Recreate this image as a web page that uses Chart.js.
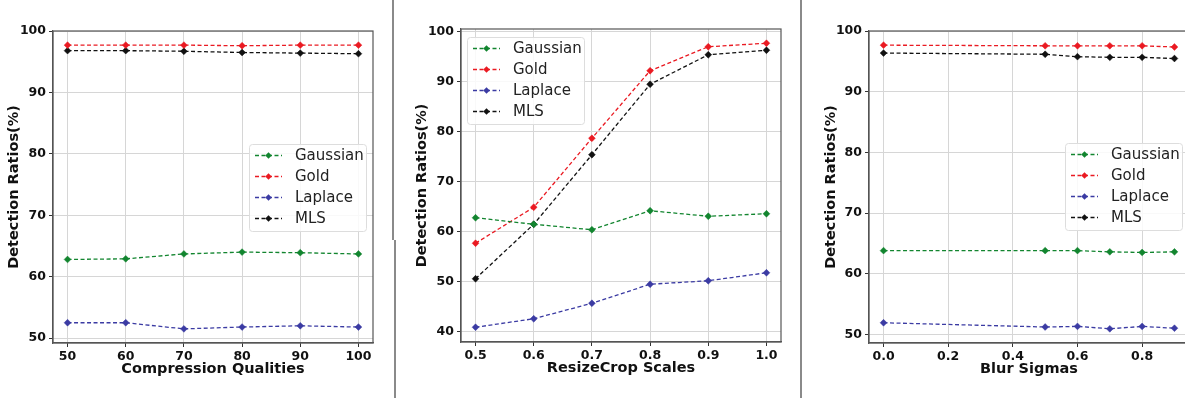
<!DOCTYPE html>
<html>
<head>
<meta charset="utf-8">
<script src="https://cdn.jsdelivr.net/npm/chart.js@4.4.1/dist/chart.umd.min.js"></script>
<style>
  html, body { margin: 0; padding: 0; background: #fff; overflow: hidden; }
  body { width: 1185px; height: 398px; position: relative; }
  canvas { position: absolute; top: 0; }
  .sep { position: absolute; width: 2px; background: #8a8a8a; }
</style>
</head>
<body>
<canvas id="c1" width="392" height="398" style="left:0px"></canvas>
<canvas id="c2" width="400" height="398" style="left:397px"></canvas>
<canvas id="c3" width="400" height="398" style="left:803px"></canvas>
<div class="sep" style="left:392px;top:0;height:240px"></div>
<div class="sep" style="left:394px;top:240px;height:158px"></div>
<div class="sep" style="left:800px;top:0;height:398px"></div>
<script>
/* input value */
var names = ["Gaussian", "Gold", "Laplace", "MLS"];
var colors = ["#12852f", "#ea1a22", "#3b3ba3", "#111111"];

/* compression */
var jpegQ = [50, 60, 70, 80, 90, 100];
var jpegGaussian = [62.8, 62.9, 63.7, 64.0, 63.9, 63.7];
var jpegGold = [97.7, 97.7, 97.7, 97.6, 97.7, 97.7];
var jpegLaplace = [52.5, 52.5, 51.5, 51.8, 52.0, 51.8];
var jpegMLS = [96.8, 96.8, 96.7, 96.5, 96.4, 96.3];

/* resize crop */
var cropS = [0.5, 0.6, 0.7, 0.8, 0.9, 1.0];
var cropGaussian = [62.8, 61.5, 60.4, 64.2, 63.1, 63.6];
var cropGold = [57.7, 64.9, 78.7, 92.2, 97.0, 97.7];
var cropLaplace = [40.9, 42.6, 45.7, 49.5, 50.2, 51.8];
var cropMLS = [50.6, 61.5, 75.4, 89.5, 95.4, 96.3];

/* blur */
var blurS = [0.0, 0.5, 0.6, 0.7, 0.8, 0.9];
var blurGaussian = [63.8, 63.8, 63.8, 63.6, 63.5, 63.6];
var blurGold = [97.7, 97.6, 97.6, 97.6, 97.6, 97.4];
var blurLaplace = [51.9, 51.2, 51.3, 50.9, 51.3, 51.0];
var blurMLS = [96.4, 96.2, 95.8, 95.7, 95.7, 95.5];

function pts(xs, ys) {
  return xs.map(function (x, i) { return { x: x, y: ys[i] }; });
}

function sets(xs, series) {
  return series.map(function (ys, i) {
    return {
      label: names[i],
      data: pts(xs, ys),
      borderColor: colors[i],
      backgroundColor: colors[i],
      borderWidth: 1.3,
      borderDash: [4, 2.5],
      pointStyle: "rectRot",
      pointRadius: 3.4,
      pointBorderWidth: 0.5,
      tension: 0,
    };
  });
}

/* frame + legend inside plot */
var framePlugin = {
  id: "frame",
  afterDraw: function (chart, args, opts) {
    var a = chart.chartArea;
    var g = chart.ctx;
    g.save();
    g.strokeStyle = "#555";
    g.lineWidth = 1.2;
    g.strokeRect(a.left, a.top, a.right - a.left, a.bottom - a.top);
    // legend
    var w = 117, h = 87;
    var lx = opts.side == "left" ? a.left + 6 : a.right - 7 - w;
    var ly = a.top + opts.top;
    g.fillStyle = "rgba(255,255,255,0.85)";
    g.strokeStyle = "#ddd";
    g.lineWidth = 1;
    g.beginPath();
    g.roundRect(lx + 0.5, ly + 0.5, w, h, 3);
    g.fill();
    g.stroke();
    g.font = "15px 'DejaVu Sans'";
    g.textBaseline = "middle";
    chart.data.datasets.forEach(function (ds, i) {
      var yy = ly + 11.5 + i * 21;
      g.strokeStyle = ds.borderColor;
      g.lineWidth = 1.3;
      g.setLineDash([4, 2.5]);
      g.beginPath();
      g.moveTo(lx + 6, yy);
      g.lineTo(lx + 33, yy);
      g.stroke();
      g.setLineDash([]);
      g.fillStyle = ds.borderColor;
      g.beginPath();
      g.moveTo(lx + 19.5, yy - 3.2);
      g.lineTo(lx + 22.7, yy);
      g.lineTo(lx + 19.5, yy + 3.2);
      g.lineTo(lx + 16.3, yy);
      g.closePath();
      g.fill();
      g.fillStyle = "#222";
      g.fillText(ds.label, lx + 46, yy + 1);
    });
    g.restore();
  },
};

function makeChart(id, xs, series, xr, yr, xstep, yLeft, pad, xTitle, legend, fmt) {
  return new Chart(document.getElementById(id), {
    type: "line",
    data: { datasets: sets(xs, series) },
    plugins: [framePlugin],
    options: {
      responsive: false,
      animation: false,
      layout: { padding: pad },
      plugins: { legend: { display: false }, tooltip: { enabled: false }, frame: legend },
      scales: {
        x: {
          type: "linear",
          min: xr[0],
          max: xr[1],
          afterFit: function (s) { s.height = 35; },
          ticks: {
            stepSize: xstep,
            includeBounds: false,
            maxRotation: 0,
            color: "#111",
            padding: 2,
            font: { family: "'DejaVu Sans'", size: 12.5, weight: "bold" },
            callback: fmt,
          },
          grid: { color: "#d6d6d6", tickColor: "#333", tickLength: 4 },
          border: { color: "#555", width: 1.2 },
          title: {
            display: true,
            text: xTitle,
            color: "#111",
            padding: { top: 0, bottom: 0 },
            font: { family: "'DejaVu Sans'", size: 14.5, weight: "bold" },
          },
        },
        y: {
          min: yr[0],
          max: yr[1],
          afterFit: function (s) { s.width = yLeft; },
          ticks: {
            stepSize: 10,
            includeBounds: false,
            color: "#111",
            padding: 3,
            font: { family: "'DejaVu Sans'", size: 12.5, weight: "bold" },
          },
          grid: { color: "#d6d6d6", tickColor: "#333", tickLength: 4 },
          border: { color: "#555", width: 1.2 },
          title: {
            display: true,
            text: "Detection Ratios(%)",
            color: "#111",
            padding: { top: 0, bottom: 2 },
            font: { family: "'DejaVu Sans'", size: 14.5, weight: "bold" },
          },
        },
      },
    },
  });
}

makeChart("c1", jpegQ, [jpegGaussian, jpegGold, jpegLaplace, jpegMLS],
  [47.5, 102.5], [49.2, 100], 10, 47,
  { left: 6, right: 19, top: 31, bottom: 20 },
  "Compression Qualities", { side: "right", top: 113 },
  function (v) { return v; });

makeChart("c2", cropS, [cropGaussian, cropGold, cropLaplace, cropMLS],
  [0.475, 1.025], [37.95, 100.55], 0.1, 47,
  { left: 17, right: 16, top: 29, bottom: 21 },
  "ResizeCrop Scales", { side: "left", top: 8 },
  function (v) { return v.toFixed(1); });

makeChart("c3", blurS, [blurGaussian, blurGold, blurLaplace, blurMLS],
  [-0.045, 0.945], [48.56, 100.04], 0.2, 46,
  { left: 20, right: 14, top: 31, bottom: 20 },
  "Blur Sigmas", { side: "right", top: 112 },
  function (v) { return v.toFixed(1); });
</script>
</body>
</html>
